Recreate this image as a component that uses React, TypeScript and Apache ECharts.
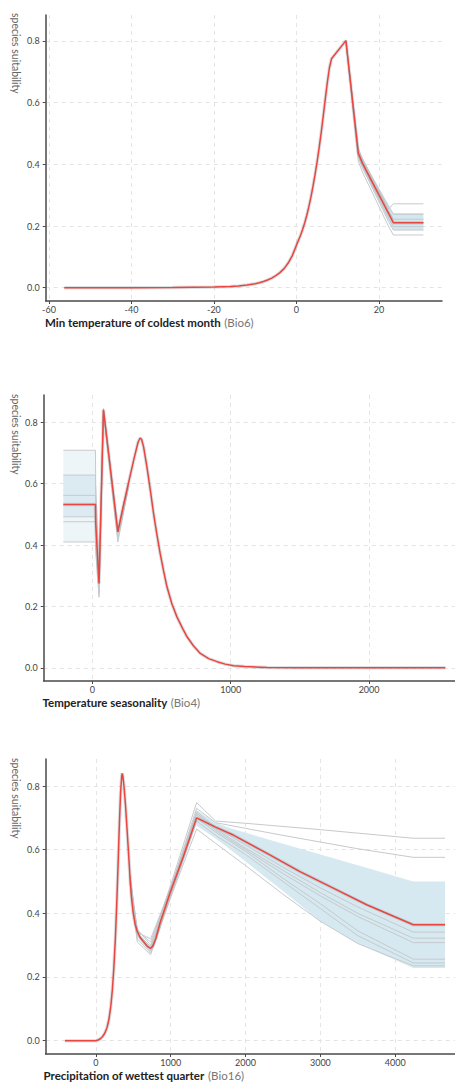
import React, { useEffect, useRef } from "react";
import * as echarts from "echarts";

// ---------- Panel 1: Min temperature of coldest month (Bio6) ----------
const bio6X = [-56.3, -40, -30, -20, -18, -16, -14, -12, -10, -9, -8, -7, -6, -5, -4, -3, -2, -1, 0, 0.5, 1, 1.5, 2, 2.5, 3, 3.5, 4, 4.5, 5, 5.5, 6, 6.5, 7, 7.5, 8, 8.5, 12, 15, 16, 23.5, 30.8];
const bio6Mean = [0, 0, 0.0005, 0.002, 0.003, 0.004, 0.006, 0.009, 0.013, 0.016, 0.02, 0.025, 0.031, 0.039, 0.049, 0.062, 0.08, 0.104, 0.138, 0.154, 0.17, 0.189, 0.21, 0.234, 0.262, 0.293, 0.328, 0.366, 0.407, 0.453, 0.502, 0.556, 0.612, 0.666, 0.713, 0.742, 0.801, 0.436, 0.404, 0.211, 0.211];
const bio6RepX = [12, 15, 16, 22.3, 23.5, 30.8];
const bio6Reps = [
  [0.8, 0.452, 0.42, 0.255, 0.272, 0.272],
  [0.8, 0.447, 0.414, 0.265, 0.238, 0.238],
  [0.8, 0.442, 0.408, 0.25, 0.222, 0.222],
  [0.8, 0.432, 0.398, 0.225, 0.198, 0.198],
  [0.8, 0.425, 0.39, 0.215, 0.187, 0.187],
  [0.8, 0.41, 0.375, 0.2, 0.171, 0.171],
];
const bio6BandX = [12, 15, 16, 23.5, 30.8];
const bio6BandUpper = [0.8, 0.45, 0.418, 0.242, 0.242];
const bio6BandLower = [0.8, 0.415, 0.385, 0.187, 0.187];
const bio6XTicks = [-60, -40, -20, 0, 20];

// ---------- Panel 2: Temperature seasonality (Bio4) ----------
const bio4X = [-210, 22, 24, 48, 80, 184, 220, 260, 300, 330, 345, 355, 370, 394, 420, 442, 466, 490, 515, 539, 575, 611, 650, 684, 730, 780, 840, 901, 960, 1022, 1100, 1263, 1500, 2000, 2551];
const bio4Mean = [0.532, 0.532, 0.47, 0.275, 0.841, 0.443, 0.52, 0.6, 0.68, 0.735, 0.749, 0.745, 0.72, 0.655, 0.575, 0.503, 0.435, 0.372, 0.315, 0.264, 0.208, 0.166, 0.13, 0.101, 0.072, 0.047, 0.03, 0.02, 0.012, 0.0065, 0.004, 0.001, 0.0003, 0, 0];
const bio4RepX = [-210, 22, 24, 48, 80, 184, 260];
const bio4Reps = [
  [0.709, 0.709, 0.6, 0.3, 0.845, 0.45, 0.605],
  [0.628, 0.628, 0.55, 0.29, 0.843, 0.445, 0.6],
  [0.562, 0.562, 0.5, 0.26, 0.838, 0.44, 0.598],
  [0.492, 0.492, 0.44, 0.25, 0.836, 0.435, 0.596],
  [0.476, 0.476, 0.43, 0.24, 0.84, 0.42, 0.59],
  [0.41, 0.41, 0.38, 0.23, 0.835, 0.41, 0.585],
];
const bio4BandX = [-210, 22];
const bio4OuterUpper = [0.709, 0.709];
const bio4OuterLower = [0.41, 0.41];
const bio4InnerUpper = [0.628, 0.628];
const bio4InnerLower = [0.492, 0.492];
const bio4XTicks = [0, 1000, 2000];

// ---------- Panel 3: Precipitation of wettest quarter (Bio16) ----------
const bio16X = [-414, 0, 30, 60, 90, 120, 150, 175, 200, 220, 240, 260, 280, 300, 315, 330, 345, 352, 360, 375, 397, 420, 440, 455, 475, 499, 525, 553, 590, 633, 690, 731, 760, 800, 856, 989, 1168, 1346, 1600, 1836, 2282, 2727, 3173, 3619, 4242, 4666];
const bio16Mean = [0, 0, 0.002, 0.006, 0.013, 0.024, 0.042, 0.068, 0.11, 0.16, 0.23, 0.32, 0.44, 0.58, 0.69, 0.78, 0.832, 0.84, 0.832, 0.8, 0.735, 0.65, 0.575, 0.516, 0.45, 0.4, 0.365, 0.343, 0.325, 0.312, 0.296, 0.29, 0.297, 0.32, 0.369, 0.463, 0.578, 0.7, 0.671, 0.646, 0.589, 0.531, 0.479, 0.427, 0.364, 0.364];
const bio16RepX = [455, 553, 731, 1000, 1346, 1600, 2000, 2500, 3000, 3500, 4242, 4666];
const bio16Reps = [
  [0.52, 0.35, 0.3, 0.49, 0.748, 0.69, 0.683, 0.673, 0.663, 0.652, 0.636, 0.636],
  [0.515, 0.345, 0.31, 0.48, 0.73, 0.685, 0.667, 0.645, 0.624, 0.603, 0.576, 0.576],
  [0.51, 0.34, 0.32, 0.48, 0.72, 0.67, 0.615, 0.545, 0.48, 0.42, 0.341, 0.341],
  [0.512, 0.338, 0.295, 0.47, 0.715, 0.665, 0.605, 0.535, 0.465, 0.4, 0.322, 0.322],
  [0.505, 0.335, 0.285, 0.465, 0.71, 0.66, 0.6, 0.525, 0.455, 0.39, 0.308, 0.308],
  [0.5, 0.33, 0.28, 0.46, 0.7, 0.655, 0.595, 0.51, 0.43, 0.345, 0.256, 0.256],
  [0.5, 0.32, 0.275, 0.455, 0.69, 0.645, 0.585, 0.5, 0.415, 0.33, 0.244, 0.244],
  [0.495, 0.31, 0.27, 0.45, 0.665, 0.62, 0.55, 0.46, 0.375, 0.305, 0.235, 0.235],
];
const bio16BandX = [1346, 1600, 1800, 2500, 3000, 3500, 4242, 4666];
const bio16BandUpper = [0.725, 0.685, 0.667, 0.619, 0.585, 0.551, 0.5, 0.5];
const bio16BandLower = [0.675, 0.635, 0.6, 0.47, 0.375, 0.305, 0.228, 0.228];
const bio16XTicks = [0, 1000, 2000, 3000, 4000];

const yTicks = [0, 0.2, 0.4, 0.6, 0.8];

const FONT = "Lato";
const RED = "#e8463f";
const GRAY = "#c6cacd";

const zip = (xs: number[], ys: number[]) => xs.map((x, i) => [x, ys[i]]);

function bandSeries(idx: number, xs: number[], lo: number[], hi: number[], color: string) {
  const upper = zip(xs, hi);
  const lower = zip(xs, lo);
  return {
    type: "custom",
    xAxisIndex: idx,
    yAxisIndex: idx,
    silent: true,
    z: 1,
    data: upper,
    renderItem: (params: any, api: any) => {
      if (params.dataIndex !== 0) return null;
      const pts = upper.map((p) => api.coord(p)).concat(lower.slice().reverse().map((p) => api.coord(p)));
      return { type: "polygon", shape: { points: pts }, style: { fill: color } };
    },
  };
}

function lineSeries(idx: number, data: number[][], color: string, width: number, z: number, opacity = 1) {
  return {
    type: "line",
    xAxisIndex: idx,
    yAxisIndex: idx,
    data,
    showSymbol: false,
    symbol: "none",
    silent: true,
    z,
    lineStyle: { color, width, opacity },
  };
}

function xAxis(idx: number, min: number, max: number, ticks: number[]) {
  return {
    gridIndex: idx,
    type: "value",
    min,
    max,
    axisLine: { show: true, onZero: false, lineStyle: { color: "#4a4a4a", width: 1.5 } },
    axisTick: { show: true, length: 3, customValues: ticks, lineStyle: { color: "#4a4a4a", width: 1 } },
    splitLine: { show: true, lineStyle: { color: "#e4e4e4", width: 1, type: [4, 4] } },
    axisLabel: {
      customValues: ticks,
      fontSize: 9,
      color: "#444",
      fontFamily: FONT,
      margin: 4,
      formatter: (v: number) => String(v),
    },
  };
}

function yAxis(idx: number, min: number, max: number) {
  return {
    gridIndex: idx,
    type: "value",
    min,
    max,
    axisLine: { show: true, onZero: false, lineStyle: { color: "#4a4a4a", width: 1.5 } },
    axisTick: { show: true, length: 3, customValues: yTicks, lineStyle: { color: "#4a4a4a", width: 1 } },
    splitLine: { show: true, lineStyle: { color: "#e4e4e4", width: 1, type: [4, 4] } },
    axisLabel: {
      customValues: yTicks,
      fontSize: 9,
      color: "#444",
      fontFamily: FONT,
      margin: 6,
      formatter: (v: number) => v.toFixed(1),
    },
  };
}

function titleText(x: number, y: number, bold: string, code: string) {
  return {
    type: "text",
    x,
    y,
    style: {
      text: `{b|${bold}} {n|${code}}`,
      verticalAlign: "middle",
      rich: {
        b: { fontFamily: FONT, fontWeight: "bold", fontSize: 11.5, fill: "#222" },
        n: { fontFamily: FONT, fontSize: 11.5, fill: "#777" },
      },
    },
  };
}

function yTitle(x: number, y: number) {
  return {
    type: "text",
    x,
    y,
    rotation: -Math.PI / 2,
    style: {
      text: "species suitability",
      fontFamily: FONT,
      fontSize: 10.5,
      fill: "#666",
      align: "left",
      verticalAlign: "middle",
    },
  };
}

export default function App() {
  const ref = useRef<HTMLDivElement>(null);
  useEffect(() => {
    document.body.style.margin = "0";
    const chart = echarts.init(ref.current!, null, { renderer: "svg" });

    const series: any[] = [];
    // Panel 1
    series.push(bandSeries(0, bio6BandX, bio6BandLower, bio6BandUpper, "#d3e7ef"));
    bio6Reps.forEach((r) => series.push(lineSeries(0, zip(bio6RepX, r), GRAY, 1, 2)));
    series.push(lineSeries(0, zip(bio6X, bio6Mean), "#9aa6ad", 3.5, 3, 0.35));
    series.push(lineSeries(0, zip(bio6X, bio6Mean), RED, 1.5, 5));
    // Panel 2
    series.push(bandSeries(1, bio4BandX, bio4OuterLower, bio4OuterUpper, "#eef5f8"));
    series.push(bandSeries(1, bio4BandX, bio4InnerLower, bio4InnerUpper, "#dcebf2"));
    bio4Reps.forEach((r) => series.push(lineSeries(1, zip(bio4RepX, r), GRAY, 1, 2)));
    series.push(lineSeries(1, zip(bio4X, bio4Mean), "#9aa6ad", 3.5, 3, 0.35));
    series.push(lineSeries(1, zip(bio4X, bio4Mean), RED, 1.5, 5));
    // Panel 3
    series.push(bandSeries(2, bio16BandX, bio16BandLower, bio16BandUpper, "#d6e9f1"));
    bio16Reps.forEach((r) => series.push(lineSeries(2, zip(bio16RepX, r), GRAY, 1, 2)));
    series.push(lineSeries(2, zip(bio16X, bio16Mean), "#9aa6ad", 3.5, 3, 0.35));
    series.push(lineSeries(2, zip(bio16X, bio16Mean), RED, 1.5, 5));

    chart.setOption({
      animation: false,
      backgroundColor: "#fff",
      grid: [
        { left: 45.7, top: 15, width: 396.3, height: 286 },
        { left: 43.7, top: 395, width: 411.3, height: 286 },
        { left: 45.7, top: 759, width: 409.3, height: 295 },
      ],
      xAxis: [
        xAxis(0, -60.8, 35.3, bio6XTicks),
        xAxis(1, -352, 2621, bio4XTicks),
        xAxis(2, -671, 4799, bio16XTicks),
      ],
      yAxis: [yAxis(0, -0.043, 0.884), yAxis(1, -0.043, 0.889), yAxis(2, -0.042, 0.885)],
      series,
      graphic: [
        yTitle(16, 13),
        yTitle(16, 394),
        yTitle(16, 758),
        titleText(45, 322, "Min temperature of coldest month", "(Bio6)"),
        titleText(42.5, 702, "Temperature seasonality", "(Bio4)"),
        titleText(43.5, 1075, "Precipitation of wettest quarter", "(Bio16)"),
      ],
    });
    return () => chart.dispose();
  }, []);
  return <div ref={ref} style={{ width: 455, height: 1082 }} />;
}
